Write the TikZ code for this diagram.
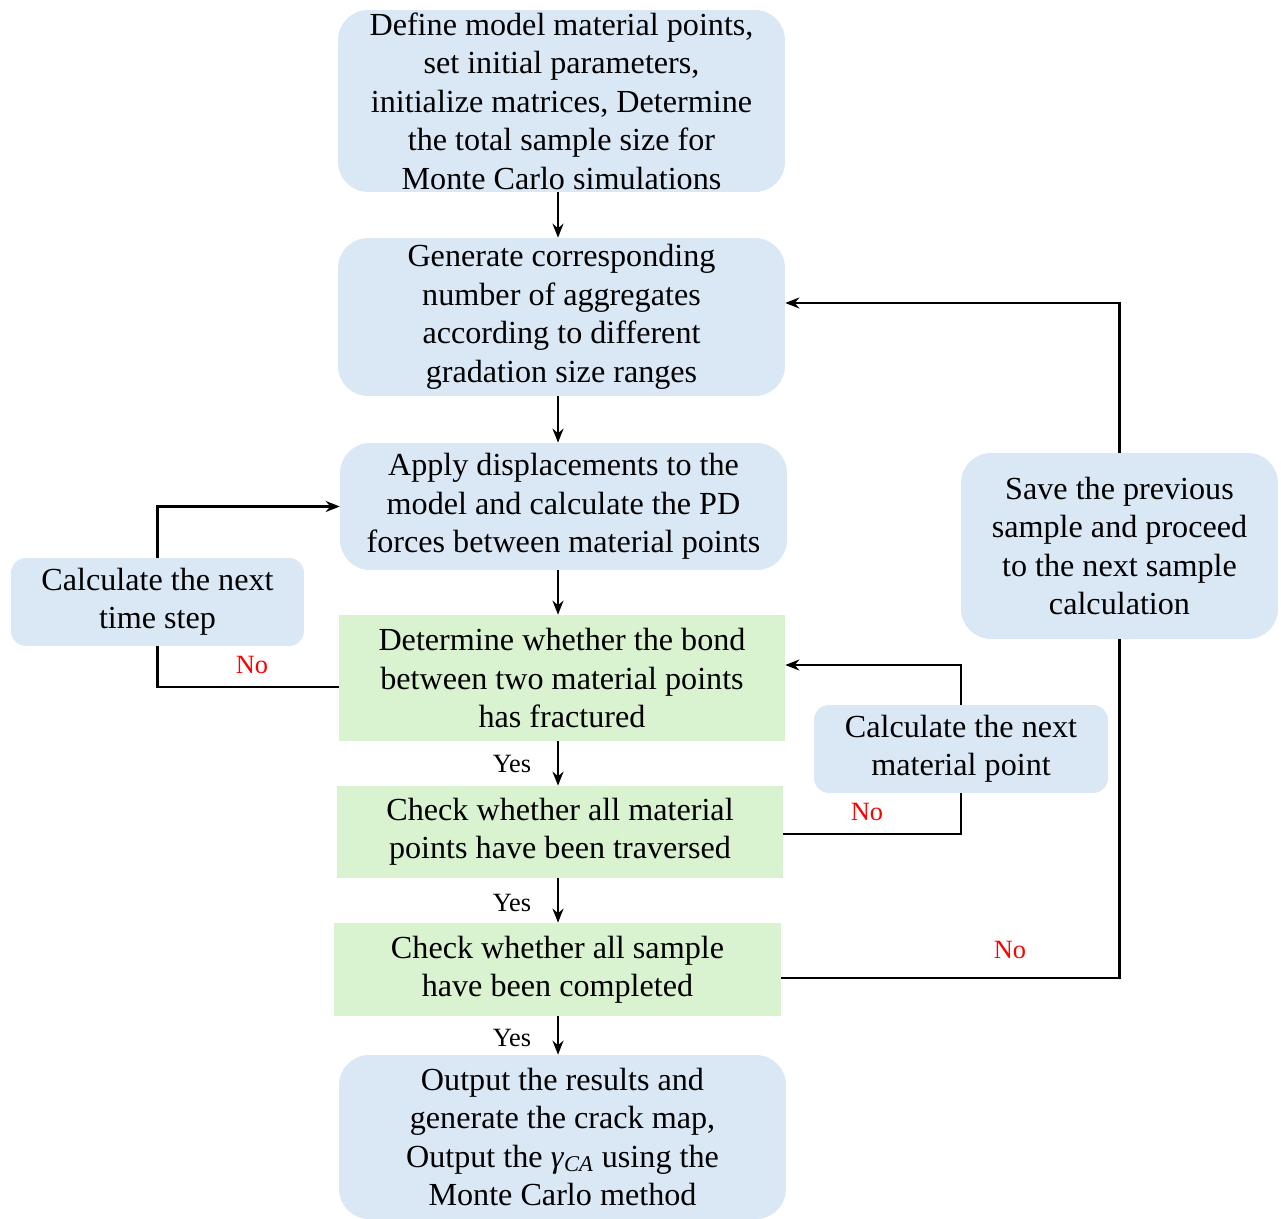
\documentclass[tikz,border=0pt]{standalone}
\usepackage{fontspec}
\setmainfont{Liberation Serif}
\usetikzlibrary{arrows.meta}

\definecolor{boxblue}{RGB}{218,232,246}
\definecolor{boxgreen}{RGB}{217,242,208}

\tikzset{
  stepbox/.style={fill=boxblue, rounded corners=0.6cm, align=center, inner sep=0pt,
    font=\fontsize{18.3}{21.9}\selectfont},
  sidebox/.style={stepbox, rounded corners=0.3cm},
  checkbox/.style={fill=boxgreen, align=center, inner sep=0pt,
    font=\fontsize{18.3}{21.9}\selectfont},
  flow/.style={-{Stealth[length=0.28cm,width=0.22cm]}, line width=1.3pt},
  link/.style={line width=1.3pt},
  yeslabel/.style={font=\fontsize{15}{18}\selectfont},
  nolabel/.style={text=red, font=\fontsize{15}{18}\selectfont}
}

\begin{document}
\begin{tikzpicture}[x=0.02cm, y=-0.02cm]
\useasboundingbox (0,0) rectangle (1281,1219);

% main column
\node[stepbox, minimum width=8.94cm, minimum height=3.64cm] (define) at (561.5,101)
  {Define model material points,\\ set initial parameters,\\ initialize matrices, Determine\\ the total sample size for\\ Monte Carlo simulations};
\node[stepbox, minimum width=8.94cm, minimum height=3.16cm] (generate) at (561.5,317)
  {Generate corresponding\\ number of aggregates\\ according to different\\ gradation size ranges};
\node[stepbox, minimum width=8.94cm, minimum height=2.54cm] (apply) at (563.5,506.5)
  {Apply displacements to the\\ model and calculate the PD\\ forces between material points};
\node[checkbox, minimum width=8.92cm, minimum height=2.52cm] (bond) at (562,678)
  {Determine whether the bond\\ between two material points\\ has fractured};
\node[checkbox, minimum width=8.92cm, minimum height=1.84cm] (allpts) at (560,832)
  {Check whether all material\\ points have been traversed};
\node[checkbox, minimum width=8.94cm, minimum height=1.86cm] (allsmp) at (557.5,969.5)
  {Check whether all sample\\ have been completed};
\node[stepbox, minimum width=8.94cm, minimum height=3.28cm] (output) at (562.5,1137)
  {Output the results and\\ generate the crack map,\\ Output the \textit{γ}\textsubscript{\textit{CA}} using the\\ Monte Carlo method};

% side boxes
\node[sidebox, minimum width=5.86cm, minimum height=1.76cm] (tstep) at (157.5,602)
  {Calculate the next\\ time step};
\node[sidebox, minimum width=5.88cm, minimum height=1.76cm] (nextpt) at (961,749)
  {Calculate the next\\ material point};
\node[stepbox, minimum width=6.34cm, minimum height=3.72cm] (save) at (1119.5,546)
  {Save the previous\\ sample and proceed\\ to the next sample\\ calculation};

% straight down, all on one vertical line
\coordinate (spine) at (558,0);
\draw[flow] (define.south -| spine) -- (generate.north -| spine);
\draw[flow] (generate.south -| spine) -- (apply.north -| spine);
\draw[flow] (apply.south -| spine) -- (bond.north -| spine);
\draw[flow] (bond.south -| spine) -- (allpts.north -| spine);
\draw[flow] (allpts.south -| spine) -- (allsmp.north -| spine);
\draw[flow] (allsmp.south -| spine) -- (output.north -| spine);

% loops
\draw[link] ([yshift=-0.18cm]bond.west) -| (tstep.south);
\draw[flow] (tstep.north) |- (apply.west);
\draw[link] ([yshift=-0.04cm]allpts.east) -| (nextpt.south);
\draw[flow] (nextpt.north) |- ([yshift=0.26cm]bond.east);
\draw[link] ([yshift=-0.17cm]allsmp.east) -| (save.south);
\draw[flow] (save.north) |- ([yshift=0.28cm]generate.east);

% labels
\node[yeslabel] (yes1) at (512,764) {Yes};
\node[yeslabel] (yes2) at (512,903) {Yes};
\node[yeslabel] (yes3) at (512,1038) {Yes};
\node[nolabel] (no1) at (252,665) {No};
\node[nolabel] (no2) at (867,812) {No};
\node[nolabel] (no3) at (1010,950) {No};
\end{tikzpicture}
\end{document}
